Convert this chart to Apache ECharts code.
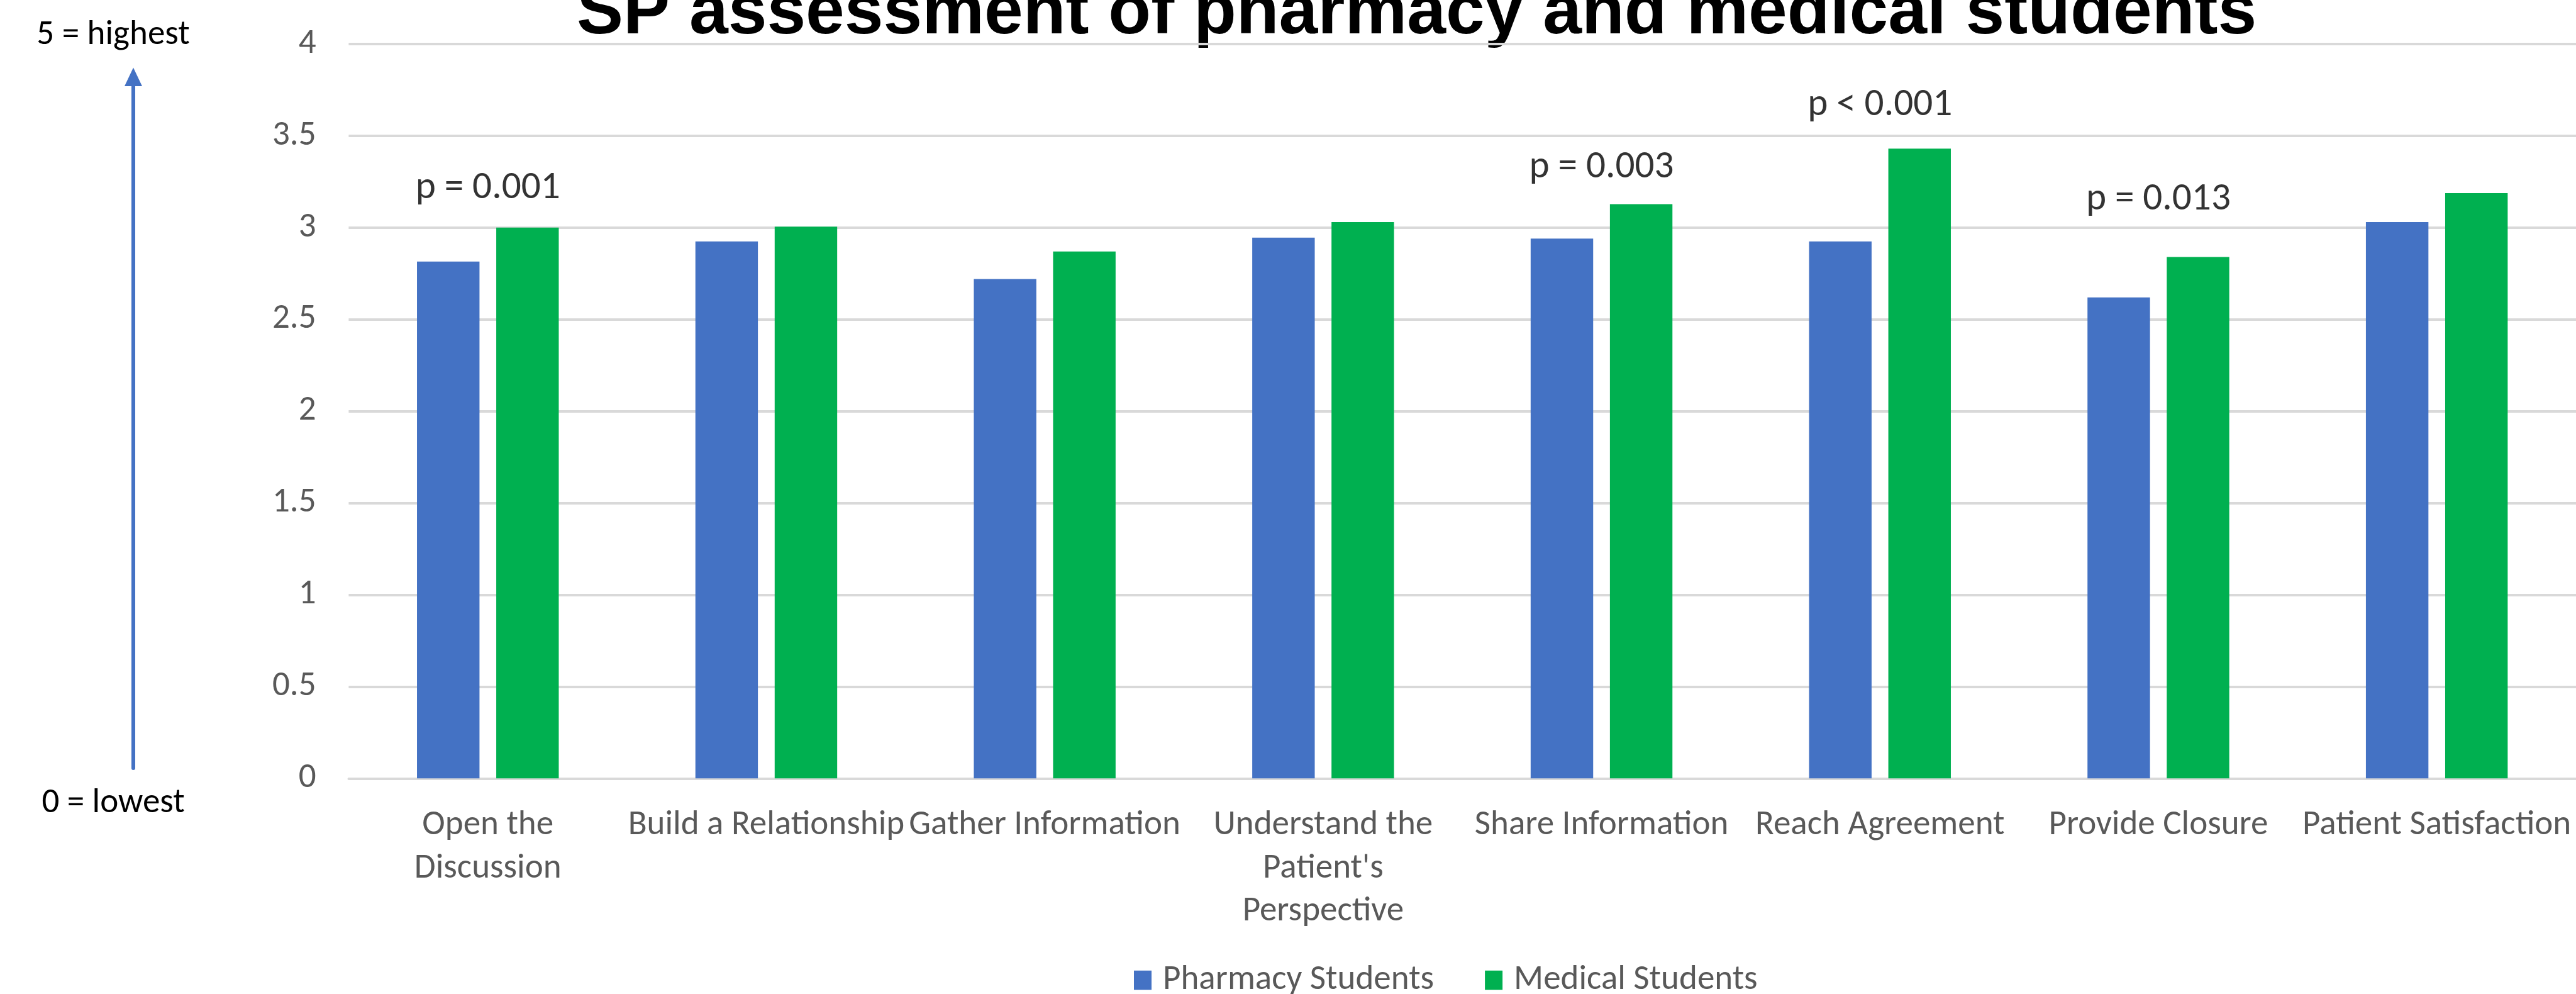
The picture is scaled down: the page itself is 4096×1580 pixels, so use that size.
<!DOCTYPE html>
<html>
<head>
<meta charset="utf-8">
<script src="https://cdn.jsdelivr.net/npm/echarts@6/dist/echarts.min.js"></script>
<style>
html,body{margin:0;padding:0;background:#ffffff;}
#chart{width:4096px;height:1580px;}
</style>
</head>
<body>
<div id="chart"></div>
<script>
// ---------------- data ----------------
const categories = [
  'Open the\nDiscussion',
  'Build a Relationship',
  'Gather Information',
  "Understand the\nPatient's\nPerspective",
  'Share Information',
  'Reach Agreement',
  'Provide Closure',
  'Patient Satisfaction'
];
const pharmacyStudents = [2.815, 2.925, 2.72, 2.945, 2.94, 2.925, 2.62, 3.03];
const medicalStudents  = [3.00, 3.005, 2.87, 3.03, 3.128, 3.43, 2.84, 3.188];
const pValueLabels = ['p = 0.001', '', '', '', 'p = 0.003', 'p < 0.001', 'p = 0.013', ''];
const seriesNames = ['Pharmacy Students', 'Medical Students'];
const yAxisMin = 0, yAxisMax = 4, yAxisStep = 0.5;
const chartTitle = 'SP assessment of pharmacy and medical students';
const topNote = '5 = highest';
const bottomNote = '0 = lowest';

// ---------------- styling ----------------
const S = 0.951;
const BODY = 'Carlito, Calibri, Lato, sans-serif';
const cv = document.createElement('canvas').getContext('2d');
cv.font = '100px ' + BODY;
const wRef = cv.measureText('Gather Information').width;
const fit = px => px * (789.5 / wRef);   // match Calibri advance widths
const fsBody = fit(57.5 * S);
const fsP = fit(64 * S);
const GREY = '#595959';
const BLUE = '#4472C4';
const GREEN = '#00B050';
const GRID = '#D9D9D9';
// baseline gap (px) of each p label above its bar
const pLabelGap = [46.6, 0, 0, 0, 42.2, 53.3, 75.1, 0];

const chart = echarts.init(document.getElementById('chart'), null, {renderer: 'canvas'});

const option = {
  backgroundColor: '#ffffff',
  animation: false,
  grid: {left: 554.4, right: -21.8, top: 69.9, bottom: 342.7},
  legend: {
    data: seriesNames,
    left: 1803, top: 1530.6,
    padding: 0,
    itemWidth: 28, itemHeight: 30.7, itemGap: 81,
    icon: 'rect',
    textStyle: {fontFamily: BODY, fontSize: fsBody, lineHeight: 40, color: GREY, padding: [0, 0, 0, 13]}
  },
  xAxis: {
    type: 'category',
    data: categories,
    axisTick: {show: false},
    axisLine: {lineStyle: {color: GRID, width: 3.8}},
    axisLabel: {
      interval: 0, margin: 41, color: GREY,
      fontFamily: BODY, fontSize: fsBody, lineHeight: 68.5, align: 'center'
    }
  },
  yAxis: {
    type: 'value',
    min: yAxisMin, max: yAxisMax, interval: yAxisStep,
    axisLine: {show: false},
    axisTick: {show: false},
    splitLine: {lineStyle: {color: GRID, width: 3.8}},
    axisLabel: {margin: 51.8, color: GREY, fontFamily: BODY, fontSize: fsBody}
  },
  series: [
    {
      name: seriesNames[0], type: 'bar', data: pharmacyStudents,
      barWidth: 99.4, barGap: '26.8%',
      itemStyle: {color: BLUE}
    },
    {
      name: seriesNames[1], type: 'bar', data: medicalStudents,
      barWidth: 99.4, barGap: '26.8%',
      itemStyle: {color: GREEN}
    },
    {
      name: 'p', type: 'scatter', symbolSize: 0, silent: true, z: 5,
      data: medicalStudents.map((v, i) => ({
        value: v,
        label: {
          show: pValueLabels[i] !== '',
          position: 'top',
          distance: pLabelGap[i] - 0.247 * fsP,
          formatter: pValueLabels[i],
          color: '#000000', fontFamily: BODY, fontSize: fsP, lineHeight: fsP
        }
      }))
    }
  ],
  graphic: [
    {
      type: 'text', silent: true,
      style: {
        text: chartTitle, x: 917, y: 22,
        font: 'bold 111px "Liberation Sans", Arial, sans-serif',
        fill: '#000000', align: 'left', verticalAlign: 'middle',
        textAlign: 'left', textVerticalAlign: 'middle'
      }
    },
    {
      type: 'text', silent: true,
      style: {
        text: topNote, x: 180, y: 56,
        font: fsBody + 'px ' + BODY, fill: '#000000',
        align: 'center', verticalAlign: 'middle',
        textAlign: 'center', textVerticalAlign: 'middle'
      }
    },
    {
      type: 'text', silent: true,
      style: {
        text: bottomNote, x: 180, y: 1277,
        font: fsBody + 'px ' + BODY, fill: '#000000',
        align: 'center', verticalAlign: 'middle',
        textAlign: 'center', textVerticalAlign: 'middle'
      }
    },
    {
      type: 'line', silent: true,
      shape: {x1: 212, y1: 1221, x2: 212, y2: 132},
      style: {stroke: BLUE, lineWidth: 6, lineCap: 'round'}
    },
    {
      type: 'polygon', silent: true,
      shape: {points: [[212, 107.5], [198, 137], [226, 137]]},
      style: {fill: BLUE}
    }
  ]
};
chart.setOption(option);
</script>
</body>
</html>
